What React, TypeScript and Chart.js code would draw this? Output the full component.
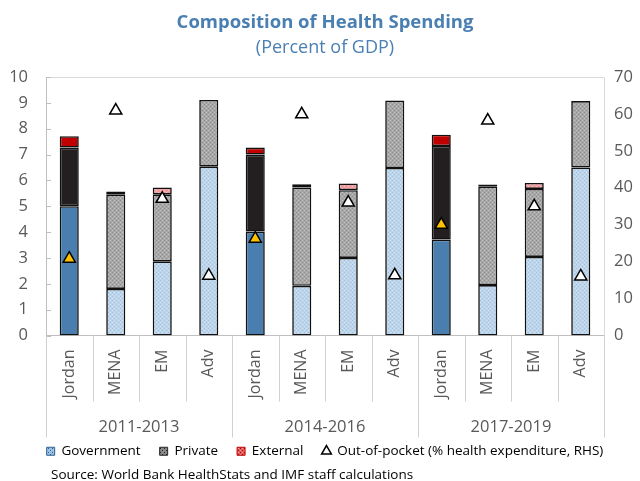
import React, { useEffect, useRef } from "react";
import { Chart, registerables } from "chart.js";

Chart.register(...registerables);

const countries = ["Jordan", "MENA", "EM", "Adv", "Jordan", "MENA", "EM", "Adv", "Jordan", "MENA", "EM", "Adv"];
const periods = ["2011-2013", "2014-2016", "2017-2019"];
const government = [5.0, 1.8, 2.87, 6.53, 4.02, 1.92, 3.0, 6.48, 3.71, 1.95, 3.04, 6.5];
const privateSpend = [2.27, 3.66, 2.59, 2.58, 2.98, 3.81, 2.62, 2.61, 3.62, 3.82, 2.63, 2.57];
const external = [0.44, 0.11, 0.27, null, 0.27, 0.12, 0.26, null, 0.44, 0.07, 0.23, null];
const outOfPocket = [20.8, 60.9, 37.0, 16.2, 26.2, 59.9, 36.0, 16.3, 30.0, 58.2, 35.0, 16.0];
const leftTicks = { min: 0, max: 10, step: 1 };
const rightTicks = { min: 0, max: 70, step: 10 };

const FONT = "'Open Sans', sans-serif";
const GREY_TEXT = "#595959";

function makePattern(base: string, dark: string, light: string) {
  const c = document.createElement("canvas");
  c.width = 4;
  c.height = 4;
  const g = c.getContext("2d")!;
  g.fillStyle = base;
  g.fillRect(0, 0, 4, 4);
  g.fillStyle = dark;
  g.fillRect(0, 0, 1, 1);
  g.fillRect(2, 2, 1, 1);
  g.fillStyle = light;
  g.fillRect(2, 0, 1, 1);
  g.fillRect(0, 2, 1, 1);
  return g.createPattern(c, "repeat")!;
}

const isJordan = (i: number) => countries[i] === "Jordan";

const decorPlugin = {
  id: "decor",
  beforeDatasetsDraw(chart: any) {
    const { ctx, chartArea } = chart;
    ctx.save();
    ctx.strokeStyle = "#D9D9D9";
    ctx.lineWidth = 1;
    ctx.beginPath();
    ctx.moveTo(chartArea.left, chartArea.top + 0.5);
    ctx.lineTo(chartArea.right + 0.5, chartArea.top + 0.5);
    ctx.lineTo(chartArea.right + 0.5, chartArea.bottom);
    ctx.stroke();
    const y = chart.scales.y;
    ctx.strokeStyle = "#BFBFBF";
    y.ticks.forEach((t: any) => {
      const py = Math.round(y.getPixelForValue(t.value)) + 0.5;
      ctx.beginPath();
      ctx.moveTo(chartArea.left, py);
      ctx.lineTo(chartArea.left + 5, py);
      ctx.stroke();
    });
    ctx.restore();
  },
  afterDraw(chart: any) {
    const { ctx, chartArea } = chart;
    const x = chart.scales.x;
    const n = countries.length;
    const half = (x.getPixelForValue(1) - x.getPixelForValue(0)) / 2;
    ctx.save();
    ctx.strokeStyle = "#D0D0D0";
    ctx.lineWidth = 1;
    for (let i = 0; i <= n; i++) {
      const px = Math.round(i < n ? x.getPixelForValue(i) - half : x.getPixelForValue(n - 1) + half) + 0.5;
      const isGroup = i % 4 === 0;
      ctx.beginPath();
      ctx.moveTo(px, chartArea.bottom);
      ctx.lineTo(px, chartArea.bottom + (isGroup ? 102 : 66));
      ctx.stroke();
    }
    ctx.fillStyle = GREY_TEXT;
    ctx.font = `16.5px ${FONT}`;
    ctx.textAlign = "center";
    ctx.textBaseline = "middle";
    periods.forEach((p, g) => {
      const cx = (x.getPixelForValue(g * 4) + x.getPixelForValue(g * 4 + 3)) / 2;
      ctx.fillText(p, cx, chartArea.bottom + 92);
    });
    ctx.fillStyle = "#000";
    ctx.font = `13.5px ${FONT}`;
    ctx.textAlign = "left";
    ctx.fillText("Source: World Bank HealthStats and IMF staff calculations", 51, chart.height - 6);
    ctx.restore();
  },
};

export default function App() {
  const ref = useRef<HTMLCanvasElement>(null);

  useEffect(() => {
    document.body.style.margin = "0";
    const lightBlue = makePattern("#BDD5EA", "#A3C1DC", "#D3E3F1");
    const grey = makePattern("#A7A7A7", "#8E8E8E", "#C2C2C2");
    const pink = makePattern("#F2A2A5", "#E4878B", "#F8C2C4");
    const legGov = makePattern("#9CC3E5", "#2F5F8F", "#9CC3E5");
    const legPriv = makePattern("#8A8A8A", "#262626", "#8A8A8A");
    const legExt = makePattern("#E06060", "#C00000", "#F0A0A0");

    const chart = new Chart(ref.current!, {
      data: {
        labels: countries,
        datasets: [
          {
            type: "bar",
            label: "Government",
            data: government,
            backgroundColor: countries.map((_, i) => (isJordan(i) ? "#4A7EAF" : lightBlue)),
            borderColor: "#111111",
            borderWidth: 1.6,
            borderSkipped: false,
            order: 1,
          },
          {
            type: "bar",
            label: "Private",
            data: privateSpend,
            backgroundColor: countries.map((_, i) => (isJordan(i) ? "#231F20" : grey)),
            borderColor: "#111111",
            borderWidth: 1.6,
            borderSkipped: false,
            order: 1,
          },
          {
            type: "bar",
            label: "External",
            data: external,
            backgroundColor: countries.map((_, i) => (isJordan(i) ? "#C00000" : pink)),
            borderColor: "#111111",
            borderWidth: 1.6,
            borderSkipped: false,
            order: 1,
          },
          {
            type: "line",
            label: "Out-of-pocket (% health expenditure, RHS)",
            data: outOfPocket,
            yAxisID: "y1",
            showLine: false,
            pointStyle: "triangle",
            pointRadius: 7,
            pointHoverRadius: 7,
            pointBackgroundColor: countries.map((_, i) => (isJordan(i) ? "#FFC000" : "#FFFFFF")),
            pointBorderColor: "#000000",
            pointBorderWidth: 1.5,
            order: 0,
          },
        ],
      } as any,
      options: {
        animation: false,
        responsive: true,
        maintainAspectRatio: false,
        layout: { padding: { left: 10, right: 0, top: 0, bottom: 13 } },
        datasets: { bar: { categoryPercentage: 1, barPercentage: 0.41 } } as any,
        plugins: {
          title: {
            display: true,
            text: "Composition of Health Spending",
            color: "#4A7FB1",
            font: { family: FONT, size: 18.5, weight: "bold" },
            padding: { top: 11.6, bottom: 0 },
          },
          subtitle: {
            display: true,
            text: "(Percent of GDP)",
            color: "#4A7FB1",
            font: { family: FONT, size: 18 },
            padding: { top: 3.4, bottom: 18.2 },
          },
          legend: {
            position: "bottom",
            labels: {
              usePointStyle: true,
              boxWidth: 8,
              boxHeight: 8,
              padding: 19,
              color: GREY_TEXT,
              font: { family: FONT, size: 13.5 },
              generateLabels: () => [
                { text: "Government", fillStyle: legGov, strokeStyle: "#2F5F8F", lineWidth: 1, pointStyle: "rect", hidden: false, datasetIndex: 0 },
                { text: "Private", fillStyle: legPriv, strokeStyle: "#262626", lineWidth: 1, pointStyle: "rect", hidden: false, datasetIndex: 1 },
                { text: "External", fillStyle: legExt, strokeStyle: "#C00000", lineWidth: 1, pointStyle: "rect", hidden: false, datasetIndex: 2 },
                { text: "Out-of-pocket (% health expenditure, RHS)", fillStyle: "#FFFFFF", strokeStyle: "#000000", lineWidth: 1.5, pointStyle: "triangle", hidden: false, datasetIndex: 3 },
              ] as any,
            },
          },
          tooltip: { enabled: false },
        },
        scales: {
          x: {
            type: "category",
            stacked: true,
            grid: { display: false, drawTicks: false },
            border: { display: true, color: "#BFBFBF", width: 1 },
            ticks: {
              autoSkip: false,
              minRotation: 90,
              maxRotation: 90,
              padding: 14,
              color: GREY_TEXT,
              font: { family: FONT, size: 16 },
            },
            afterFit: (s: any) => {
              s.height = 90;
            },
          },
          y: {
            type: "linear",
            position: "left",
            stacked: true,
            min: leftTicks.min,
            max: leftTicks.max,
            grid: { display: false, drawTicks: false },
            border: { display: true, color: "#BFBFBF", width: 1 },
            ticks: {
              stepSize: leftTicks.step,
              autoSkip: false,
              padding: 18,
              color: GREY_TEXT,
              font: { family: FONT, size: 16.5 },
            },
            afterFit: (s: any) => {
              s.width = 36;
              s._computeLabelArea = () => undefined;
            },
          },
          y1: {
            type: "linear",
            position: "right",
            min: rightTicks.min,
            max: rightTicks.max,
            grid: { display: false, drawTicks: false },
            border: { display: false },
            ticks: {
              stepSize: rightTicks.step,
              autoSkip: false,
              padding: 10,
              color: GREY_TEXT,
              font: { family: FONT, size: 16.5 },
            },
            afterFit: (s: any) => {
              s.width = 36;
            },
          },
        },
      } as any,
      plugins: [decorPlugin],
    });
    return () => chart.destroy();
  }, []);

  return (
    <div style={{ width: 640, height: 481, position: "relative" }}>
      <canvas ref={ref} />
    </div>
  );
}
